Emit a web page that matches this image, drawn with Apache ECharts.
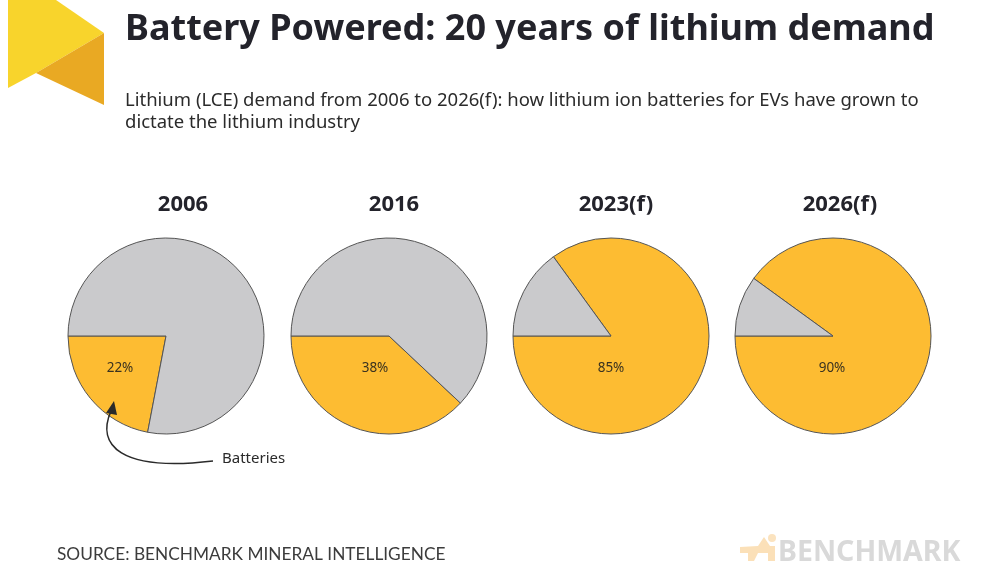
<!DOCTYPE html>
<html>
<head>
<meta charset="utf-8">
<script src="https://cdn.jsdelivr.net/npm/echarts@6/dist/echarts.min.js"></script>
<style>
  html, body { margin: 0; padding: 0; background: #fff; }
  #chart { width: 1000px; height: 563px; }
</style>
</head>
<body>
<div id="chart"></div>
<script>
// data
const years = ['2006', '2016', '2023(f)', '2026(f)'];
const batteries = [22, 38, 85, 90];
const otherUses = [78, 62, 15, 10];

const yellow = '#FDBC32';
const grey = '#CACACC';
const centersX = [166, 389, 611, 833];
const labelOffsets = [[-46, 32], [-14, 32], [0, 32], [-1, 32]];
const titleX = [178, 389, 611, 835];

const chart = echarts.init(document.getElementById('chart'));

let series = years.map((y, i) => {
    return {
        name: y,
        type: 'pie',
        center: [centersX[i], 336],
        radius: 98,
        startAngle: 180,
        clockwise: false,
        silent: true,
        animation: false,
        labelLine: { show: false },
        itemStyle: { borderColor: '#555', borderWidth: 1 },
        data: [
            {
                name: 'Batteries',
                value: batteries[i],
                itemStyle: { color: yellow },
                label: {
                    show: true,
                    position: 'center',
                    offset: labelOffsets[i],
                    formatter: '{c}%',
                    fontFamily: 'Noto Sans',
                    fontSize: 13.5,
                    color: '#3a3220'
                }
            },
            {
                name: 'Other',
                value: otherUses[i],
                itemStyle: { color: grey },
                label: { show: false }
            }
        ]
    };
});

let titles = [
    {
        text: 'Battery Powered: 20 years of lithium demand',
        left: 120, top: 7,
        textStyle: { fontFamily: 'Noto Sans', fontWeight: 'bold', fontSize: 36, color: '#23232b' }
    },
    {
        text: 'Lithium (LCE) demand from 2006 to 2026(f): how lithium ion batteries for EVs have grown to\ndictate the lithium industry',
        left: 120, top: 85,
        textStyle: { fontFamily: 'Noto Sans', fontWeight: 'normal', fontSize: 18.5, lineHeight: 22, color: '#2b2b2b' }
    },
    {
        text: 'SOURCE: BENCHMARK MINERAL INTELLIGENCE',
        left: 52, top: 541,
        textStyle: { fontFamily: 'Lato', fontWeight: 'normal', fontSize: 17.3, color: '#3c3c3c' }
    }
];
years.forEach((y, i) => {
    titles.push({
        text: y,
        left: titleX[i], top: 189,
        textAlign: 'center',
        textStyle: { fontFamily: 'Noto Sans', fontWeight: 'bold', fontSize: 22, color: '#23232b' }
    });
});

const option = {
    backgroundColor: '#fff',
    animation: false,
    title: titles,
    series: series,
    graphic: [
        // logo at top left
        {
            type: 'polygon', silent: true,
            shape: { points: [[8, 0], [56, 0], [104, 33], [36, 73], [8, 88]] },
            style: { fill: '#F8D42C' }
        },
        {
            type: 'polygon', silent: true,
            shape: { points: [[104, 33], [104, 105], [36, 73]] },
            style: { fill: '#E9A923' }
        },
        // annotation arrow
        {
            type: 'bezierCurve', silent: true, z: 100,
            shape: { x1: 213, y1: 461, cpx1: 120, cpy1: 472, cpx2: 96, cpy2: 445, x2: 111, y2: 411 },
            style: { stroke: '#2a2a2a', lineWidth: 1.6, fill: null }
        },
        {
            type: 'polygon', silent: true, z: 100,
            shape: { points: [[114, 401], [106, 413], [117, 415]] },
            style: { fill: '#2a2a2a' }
        },
        {
            type: 'text', silent: true, left: 222, top: 451, z: 100,
            style: { text: 'Batteries', fontFamily: 'Noto Sans', fontSize: 15, fill: '#2a2a2a' }
        },
        // faint benchmark logo
        {
            type: 'circle', silent: true,
            shape: { cx: 772, cy: 538, r: 4 },
            style: { fill: '#FBE3BF' }
        },
        {
            type: 'polygon', silent: true,
            shape: { points: [[740, 547], [758, 546], [764, 537], [770, 546], [775, 546], [775, 561], [768, 561], [768, 553], [758, 553], [754, 561], [748, 561], [748, 553], [740, 553]] },
            style: { fill: '#FBE0B8' }
        },
        {
            type: 'text', silent: true, left: 778, top: 538,
            style: { text: 'BENCHMARK', fontFamily: 'Noto Sans', fontWeight: 'bold', fontSize: 28.5, fill: '#D9D9D9' }
        }
    ]
};

chart.setOption(option);
</script>
</body>
</html>
